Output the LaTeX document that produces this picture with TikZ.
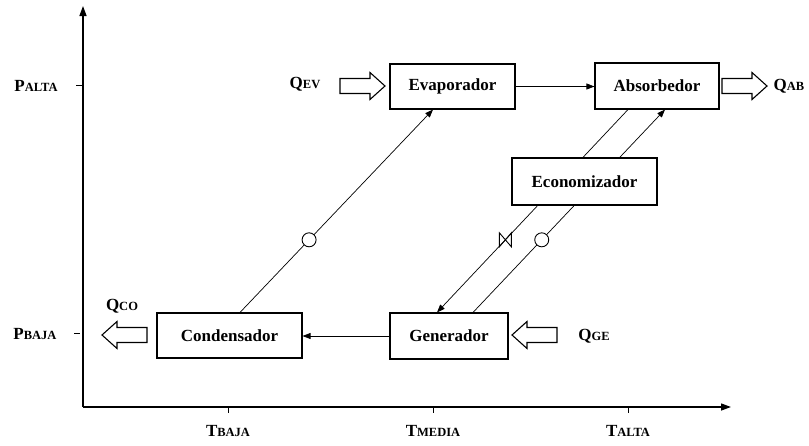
\documentclass[tikz,border=0pt]{standalone}
\usepackage{fontspec}
\setmainfont{Liberation Serif}
\usetikzlibrary{arrows.meta,backgrounds}
\newcommand\bigsmallcap[2]{{\fontsize{17}{17}\selectfont #1}{\fontsize{12.5}{12.5}\selectfont #2}}
\begin{document}
\begin{tikzpicture}[x=1pt,y=-1pt,
  box/.style={draw,line width=1.1pt,fill=white,inner sep=0pt,font=\fontsize{17}{20}\selectfont\bfseries},
  flow/.style={line width=0.7pt,-{Triangle[length=8pt,width=6pt]}},
  axisline/.style={line width=1.3pt,-{Triangle[length=10pt,width=7pt]}},
  tick/.style={line width=1pt},
  lbl/.style={font=\bfseries,inner sep=0pt},
  pump/.style={circle,draw,line width=0.9pt,fill=white,minimum size=14pt,inner sep=0pt},
  openarrow/.pic={\draw[line width=1.1pt,fill=white] (0,-7.5) -- (30,-7.5) -- (30,-13.5) -- (45,0) -- (30,13.5) -- (30,7.5) -- (0,7.5) -- cycle;}
]
\useasboundingbox (0,0) rectangle (809,445);
% axes
\coordinate (O) at (83,407);
\coordinate (ytop) at (83,6);
\coordinate (xend) at (731,407);
\draw[axisline] (O) -- (ytop);
\draw[axisline] (O) -- (xend);
\draw[tick] (76,85) -- (83,85);
\draw[tick] (74,333) -- (80,333);
\draw[tick] (228,407) -- (228,413);
\draw[tick] (433,407) -- (433,413);
\draw[tick] (628,407) -- (628,413);
\node[lbl] (pa) at (36,86) {\bigsmallcap{P}{ALTA}};
\node[lbl] (pb) at (35,334) {\bigsmallcap{P}{BAJA}};
\node[lbl] (tb) at (228,431) {\bigsmallcap{T}{BAJA}};
\node[lbl] (tm) at (433,431) {\bigsmallcap{T}{MEDIA}};
\node[lbl] (ta) at (628,431) {\bigsmallcap{T}{ALTA}};
% boxes
\node[box,minimum width=125pt,minimum height=45pt] (evap) at (452.5,86.5) {Evaporador};
\node[box,minimum width=124pt,minimum height=46pt] (abs) at (657,86) {Absorbedor};
\node[box,minimum width=145pt,minimum height=47pt] (econ) at (584.5,181.5) {Economizador};
\node[box,minimum width=145pt,minimum height=45pt] (cond) at (229.5,335.5) {Condensador};
\node[box,minimum width=118pt,minimum height=46pt] (gen) at (449,336) {Generador};
% horizontal flows
\draw[flow] (evap.east) -- (evap.east -| abs.west);
\draw[flow] (gen.west) -- (gen.west -| cond.east);
% diagonal flows
\begin{scope}[on background layer]
\draw[flow] ([xshift=10.5pt]cond.north) -- coordinate[pos=0.358] (p1) ([xshift=-19.5pt]evap.south);
\draw[flow] ([xshift=-29pt]abs.south) -- coordinate[pos=0.642] (v1) ([xshift=-12pt]gen.north);
\draw[flow] ([xshift=24pt]gen.north) -- coordinate[pos=0.358] (p2) ([xshift=8pt]abs.south);
\end{scope}
\node[pump] (pump1) at (p1) {};
\node[pump] (pump2) at (p2) {};
\draw[line width=0.9pt] ([shift={(-6,-7)}]v1) -- ([shift={(6,7)}]v1) -- ([shift={(6,-7)}]v1) -- ([shift={(-6,7)}]v1) -- cycle;
% heat arrows
\pic (aev) at (340,86) {openarrow};
\pic (aab) at (722,86) {openarrow};
\pic[rotate=180] (aco) at (147,335) {openarrow};
\pic[rotate=180] (age) at (557,335) {openarrow};
\node[lbl] (qev) at (305,84) {\bigsmallcap{Q}{EV}};
\node[lbl] (qab) at (789,86) {\bigsmallcap{Q}{AB}};
\node[lbl] (qco) at (122,306) {\bigsmallcap{Q}{CO}};
\node[lbl] (qge) at (594,336) {\bigsmallcap{Q}{GE}};
\end{tikzpicture}
\end{document}
